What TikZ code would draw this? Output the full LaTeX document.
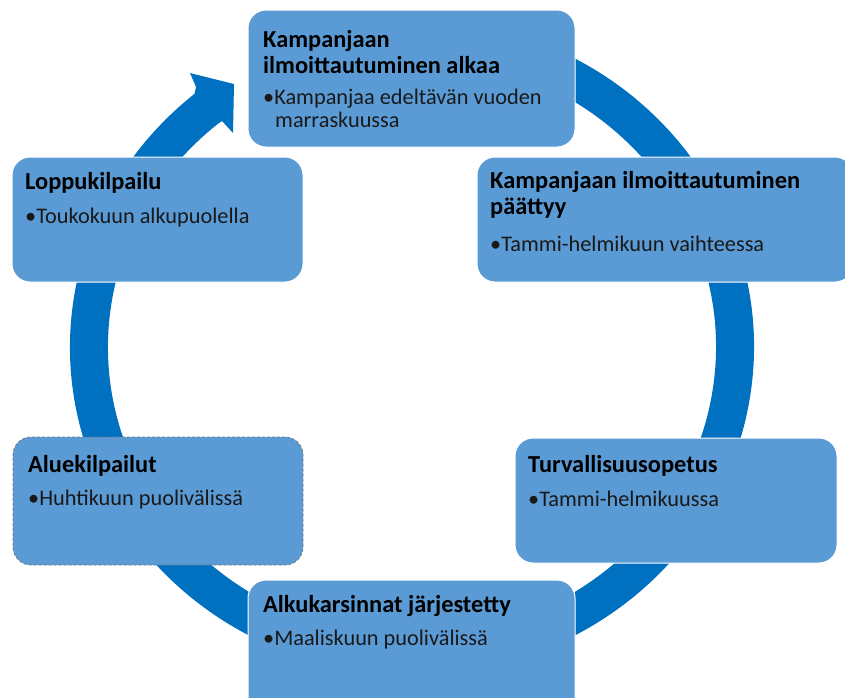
\documentclass[tikz,border=0pt]{standalone}
\usepackage{fontspec}
\setmainfont{Carlito}
\usetikzlibrary{
  positioning,
  calc}
\definecolor{boxcolor}{RGB}{91,155,213}
\definecolor{cyclecolor}{RGB}{0,112,192}
\definecolor{edgecolor}{RGB}{110,120,130}
\tikzset{
  %% stagebox : one stage of the campaign year
  stagebox/.style={
    rectangle,
    rounded corners=18pt,
    fill=boxcolor,
    draw=white,
    line width=1pt,
    inner sep=0pt
  },
  %% stagetitle : heading line of a stage
  stagetitle/.style={
    anchor=base west,
    inner sep=0pt,
    font=\bfseries\fontsize{24.4}{28}\selectfont
  },
  %% stagenote : bullet line of a stage
  stagenote/.style={
    anchor=base west,
    inner sep=0pt,
    text=black!90,
    font=\fontsize{22.3}{26}\selectfont
  },
  %% ring : the thick circular arrow behind the boxes
  ring/.style={cyclecolor, line width=38pt}
}

\begin{document}
\begin{tikzpicture}
  [x=1pt,
  y=-1pt]

  \useasboundingbox (0, 0) rectangle (845, 697);

  %% Cycle arrow (drawn first, boxes go on top)
  \coordinate (hub) at (412, 347);
  \draw [ring] ($(hub) + (80:323pt and 309pt)$)
  arc [start angle=80, end angle=-232, x radius=323pt, y radius=309pt];
  \fill [cyclecolor] (196, 87) -- (190, 73) -- (234, 84) -- (233, 133)
  -- (222, 121) -- (214, 126) -- (194, 96) -- cycle;

  %% Stage boxes
  \node (signup) [stagebox, minimum width=327pt, minimum height=137pt]
  at (411.5, 78.5) {};
  \node (deadline) [stagebox, minimum width=376pt, minimum height=125pt]
  at (665, 219.5) {};
  \node (lesson) [stagebox, minimum width=322pt, minimum height=125pt]
  at (676, 500.5) {};
  \node (heats) [stagebox, minimum width=327pt, minimum height=137pt]
  at (411.5, 648.5) {};
  \node (regional) [stagebox, draw=edgecolor, densely dashed,
  line width=0.8pt, minimum width=290pt, minimum height=128pt]
  at (158, 501) {};
  \node (final) [stagebox, minimum width=291pt, minimum height=125pt]
  at (157.5, 219.5) {};

  %% Texts
  \node (signup-t1) [stagetitle] at (263, 47) {Kampanjaan};
  \node (signup-t2) [stagetitle] at (263, 73) {ilmoittautuminen alkaa};
  \node (signup-n1) [stagenote] at (263, 104) {•Kampanjaa edeltävän vuoden};
  \node (signup-n2) [stagenote] at (275, 127) {marraskuussa};

  \node (deadline-t1) [stagetitle] at (490, 188) {Kampanjaan ilmoittautuminen};
  \node (deadline-t2) [stagetitle] at (490, 214) {päättyy};
  \node (deadline-n1) [stagenote] at (490, 251) {•Tammi-helmikuun vaihteessa};

  \node (lesson-t1) [stagetitle] at (528, 472) {Turvallisuusopetus};
  \node (lesson-n1) [stagenote] at (528, 506) {•Tammi-helmikuussa};

  \node (heats-t1) [stagetitle] at (263, 612) {Alkukarsinnat järjestetty};
  \node (heats-n1) [stagenote] at (263, 645) {•Maaliskuun puolivälissä};

  \node (regional-t1) [stagetitle] at (28, 472) {Aluekilpailut};
  \node (regional-n1) [stagenote] at (28, 505) {•Huhtikuun puolivälissä};

  \node (final-t1) [stagetitle] at (25, 189) {Loppukilpailu};
  \node (final-n1) [stagenote] at (25, 223) {•Toukokuun alkupuolella};

\end{tikzpicture}
\end{document}
